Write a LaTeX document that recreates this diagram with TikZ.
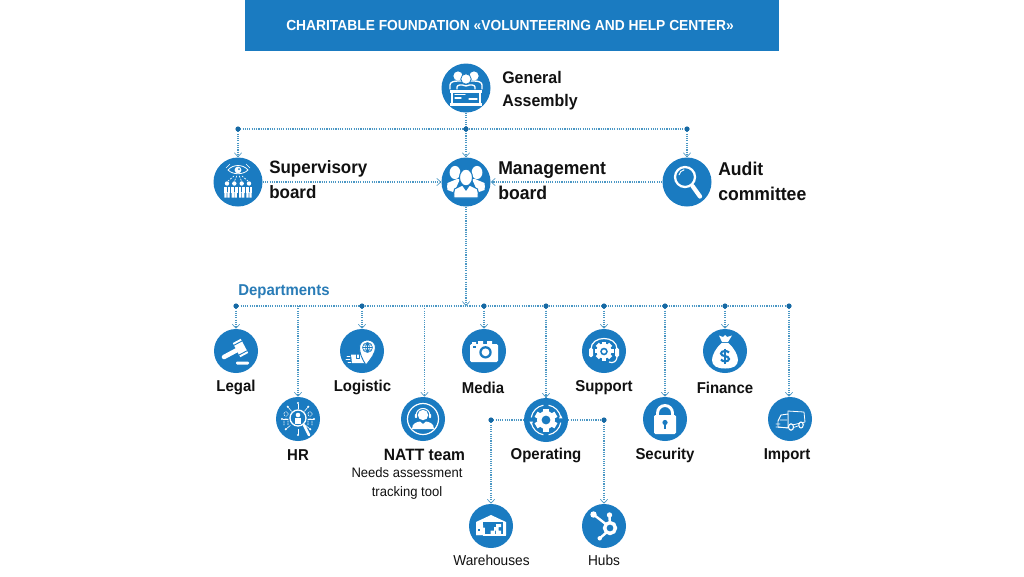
\documentclass[tikz,border=0pt]{standalone}
\usepackage{fontspec}
\setmainfont[FakeStretch=0.95]{Liberation Sans}
\usetikzlibrary{arrows.meta}
\definecolor{fb}{HTML}{1A7BC1}
\definecolor{fl}{HTML}{4A97C4}
\definecolor{ft}{HTML}{111111}
\tikzset{
  x=0.75pt,y=-0.75pt,
  big/.style={circle,fill=fb,inner sep=0pt,minimum size=36.75pt},
  small/.style={circle,fill=fb,inner sep=0pt,minimum size=33pt},
  conn/.style={draw=fl,line width=0.85pt,dash pattern=on 0.85pt off 0.85pt},
  tip/.style={conn,-{Straight Barb[length=3pt,width=5.5pt,line width=0.5pt]}},
  dot/.style={fill=fb!85!black},
  bigt/.style={font=\fontsize{13.9pt}{18.7pt}\selectfont\bfseries,text=ft,align=left,anchor=west,inner sep=0pt},
  dept/.style={font=\fontsize{11.8pt}{13pt}\selectfont\bfseries,text=ft,inner sep=0pt},
  sub/.style={font=\fontsize{10.3pt}{14.2pt}\selectfont,text=ft,inner sep=0pt,align=center},
  sub2/.style={font=\fontsize{10.8pt}{14.2pt}\selectfont,text=ft,inner sep=0pt},
  wl/.style={draw=white,line width=0.7pt,line cap=round,line join=round},
  bl/.style={draw=fb,line width=0.7pt,line cap=round,line join=round},
}
\newcommand{\busdot}[1]{\fill[dot] (#1) circle (2.6);}
\begin{document}
\begin{tikzpicture}
\useasboundingbox (0,0) rectangle (1024,576);
\fill[white] (0,0) rectangle (1024,576);
\node[fill=fb,minimum width=400.5pt,minimum height=38.25pt,inner sep=0pt,text=white,font=\fontsize{10.9pt}{13pt}\selectfont\bfseries] (title) at (512,25.5) {CHARITABLE FOUNDATION «VOLUNTEERING AND HELP CENTER»\kern3pt};

% main circles
\node[big] (ga) at (466,88) {};
\node[big] (sb) at (238,182) {};
\node[big] (mb) at (466,182) {};
\node[big] (ac) at (687,182) {};
% departments
\node[small] (legal) at (236,351) {};
\node[small] (logi) at (362,351) {};
\node[small] (media) at (484,351) {};
\node[small] (supp) at (604,351) {};
\node[small] (fin) at (725,351) {};
\node[small] (hr) at (298,419) {};
\node[small] (natt) at (423,419) {};
\node[small] (oper) at (546,420) {};
\node[small] (secu) at (665,419) {};
\node[small] (impo) at (790,419) {};
\node[small] (ware) at (491,526) {};
\node[small] (hubs) at (604,526) {};

% bus coordinates
\coordinate (tS) at (238,129); \coordinate (tM) at (466,129); \coordinate (tA) at (687,129);
\coordinate (bL) at (236,306); \coordinate (bH) at (298,306); \coordinate (bG) at (362,306);
\coordinate (bN) at (424.5,306); \coordinate (bC) at (466,306); \coordinate (bD) at (484,306);
\coordinate (bO) at (546,306); \coordinate (bU) at (604,306); \coordinate (bE) at (665,306);
\coordinate (bF) at (725,306); \coordinate (bI) at (789,306);
\coordinate (oW) at (491,420); \coordinate (oH) at (604,420);

% connectors
\draw[conn] (tS) -- (tA);
\draw[tip] (ga) -- (mb);
\draw[tip] (tS) -- (sb);
\draw[tip] (tA) -- (ac);
\draw[tip] (sb) -- (mb);
\draw[tip] (ac) -- (mb);
\draw[conn] (bL) -- (bI);
\draw[tip] (mb) -- (bC);
\foreach \a/\b in {bL/legal,bH/hr,bG/logi,bN/natt,bD/media,bO/oper,bU/supp,bE/secu,bF/fin,bI/impo}{\draw[tip] (\a) -- (\a |- \b.north);}
\draw[conn] (oW) -- (oper); \draw[conn] (oper) -- (oH);
\draw[tip] (oW) -- (ware);
\draw[tip] (oH) -- (hubs);
\foreach \p in {tS,tM,tA,bL,bG,bD,bO,bU,bE,bF,bI,oW,oH}{\busdot{\p}}

% ---- icons ----
% General Assembly
\begin{scope}[shift={(ga.center)}]
  \fill[white] (-8,-12) circle (4.6) (8,-12) circle (4.6);
  \draw[wl,line width=1pt] (-16,1) -- (-16,-3) .. controls (-16,-6) and (-12,-7) .. (-8,-7) .. controls (-4,-7) and (4,-7) .. (8,-7) .. controls (12,-7) and (16,-6) .. (16,-3) -- (16,1);
  \fill[white,draw=fb,line width=.6pt] (0,-9) circle (5.2);
  \draw[wl,line width=1pt] (-9,1) -- (-9,-1) .. controls (-9,-3) and (-5,-4) .. (0,-2) .. controls (5,-4) and (9,-3) .. (9,-1) -- (9,1);
  \fill[white] (-16,1.5) rectangle (16,5);
  \draw[wl,line width=.9pt] (-14,5) -- (-14,15) (14,5) -- (14,15);
  \fill[white] (-16,15) rectangle (16,17.5);
  \draw[wl,line width=1pt] (-11,6.5) -- (-1,6.5) (3,11) -- (11,11) (-11,10) -- (-5,10);
\end{scope}
% Supervisory
\begin{scope}[shift={(sb.center)}]
  \draw[wl,line width=.6pt] (-10,-12) .. controls (-5,-18) and (5,-18) .. (10,-12) .. controls (5,-7) and (-5,-7) .. (-10,-12) -- cycle;
  \fill[white] (0,-12) circle (3.4);
  \fill[fb] (1,-13) circle (1);
  \draw[wl,line width=.5pt] (-12,-14) -- (-8,-18) (12,-14) -- (8,-18);
  \draw[wl,line width=.5pt,dash pattern=on 1.2pt off 1.2pt] (-4,-6) -- (-10,-1) (-1.3,-6) -- (-3.5,-1) (1.3,-6) -- (3.5,-1) (4,-6) -- (10,-1);
  \foreach \x in {-11,-3.7,3.7,11}{
    \fill[white] (\x,1.5) circle (2.2);
    \fill[white] (\x-3.2,4.5) rectangle (\x+3.2,11);
    \fill[white] (\x-2.6,11) rectangle (\x-.3,15.5) (\x+.3,11) rectangle (\x+2.6,15.5);
    \draw[bl,line width=.4pt] (\x,5) -- (\x,10);
  }
\end{scope}
% Management
\begin{scope}[shift={(mb.center)}]
  \foreach \s in {-1,1}{
    \fill[white] (\s*11,-9.5) ellipse (5.4 and 6.6);
    \fill[white] (\s*6,-3) -- (\s*9,-3) -- (\s*18.5,1) .. controls (\s*19,3) and (\s*19,6) .. (\s*18.5,8) -- (\s*13,10) -- (\s*10,6) -- cycle;
  }
  \fill[white,draw=fb,line width=.8pt] (0,-4.5) ellipse (6.5 and 8.4);
  \fill[white,draw=fb,line width=.8pt] (-3.5,3) -- (-11.5,7) .. controls (-12.5,10) and (-12.5,13) .. (-12,16) -- (12,16) .. controls (12.5,13) and (12.5,10) .. (11.5,7) -- (3.5,3) -- (0,8) -- cycle;
\end{scope}
% Audit
\begin{scope}[shift={(ac.center)}]
  \draw[white,line width=1.7pt] (-2,-5) circle (10);
  \draw[white,line width=.7pt] (-8,-7) arc (-170:-100:6.5);
  \draw[white,line width=3.2pt,line cap=round] (5.5,4) -- (13,14.5);
\end{scope}
% Legal
\begin{scope}[shift={(legal.center)}]
  \draw[white,line width=3.4pt,line cap=round] (-12,6) -- (3,-2);
  \fill[white,rotate around={28:(4.5,-3)}] (0,-11) rectangle (9,5);
  \draw[fb,line width=.7pt,rotate around={28:(4.5,-3)}] (0,-8.5) -- (9,-8.5) (0,2.5) -- (9,2.5);
  \fill[white,rounded corners=.8pt] (0,10.5) rectangle (13,13.5);
\end{scope}
% Logistic
\begin{scope}[shift={(logi.center)}]
  \fill[white] (-11,3.5) -- (2,3.5) -- (3,12) -- (-10,12) -- cycle;
  \draw[bl,line width=.5pt] (-6,3.5) -- (-6,7) -- (-3,7) -- (-3,3.5);
  \fill[white,draw=fb,line width=.7pt] (4,14) .. controls (0,8) and (-2.5,2) .. (-2.5,-3.5) .. controls (-2.5,-8) and (1,-11) .. (5.5,-11) .. controls (10,-11) and (13.5,-8) .. (13.5,-3.5) .. controls (13.5,2) and (9,8) .. (4,14) -- cycle;
  \draw[bl,line width=.45pt] (5.5,-3.5) circle (5) (.5,-3.5) -- (10.5,-3.5) (5.5,-8.5) -- (5.5,1.5) (5.5,-8.5) .. controls (3,-6) and (3,-1) .. (5.5,1.5) (5.5,-8.5) .. controls (8,-6) and (8,-1) .. (5.5,1.5) (1.2,-6) -- (9.8,-6) (1.2,-1) -- (9.8,-1);
  \draw[wl,line width=.5pt] (-15,5) -- (-12,5) (-16,8) -- (-12,8) (-14,11) -- (-11,11);
\end{scope}
% Media
\begin{scope}[shift={(media.center)}]
  \fill[white,rounded corners=1pt] (-14,-7) rectangle (14,11);
  \fill[white] (-12,-9) rectangle (-8,-7) (-6,-10) rectangle (-1,-7) (3,-10) rectangle (8,-7);
  \fill[fb] (1.5,1.3) circle (6.2);
  \fill[white] (1.5,1.3) circle (3.9);
  \fill[fb] (-11,-5) rectangle (-8,-3);
\end{scope}
% Support
\begin{scope}[shift={(supp.center)}]
  \foreach \a in {0,45,...,315}{\fill[white,rotate=\a] (-2.2,0.5) rectangle (2.2,-9.5);}
  \fill[white] (0,0) circle (7.5);
  \fill[fb] (0,0.5) circle (3.8);
  \fill[white] (0,0.5) circle (2);
  \draw[white,line width=.9pt] (-13,-2) .. controls (-13,-16) and (13,-16) .. (13,-2);
  \fill[white,rounded corners=1pt] (-15,-3) rectangle (-11,6) (11,-3) rectangle (15,6);
  \draw[white,line width=.9pt] (13,6) .. controls (13,10) and (9,13) .. (5,11);
\end{scope}
% Finance
\begin{scope}[shift={(fin.center)}]
  \fill[white] (-6,-15.5) -- (-2,-14) -- (0,-16) -- (2,-14) -- (7,-15.5) -- (3,-9) -- (-3,-9) -- cycle;
  \fill[white] (-3.5,-8) .. controls (-9,-3) and (-13,4) .. (-13,9) .. controls (-13,15) and (-8,17.5) .. (0,17.5) .. controls (8,17.5) and (13,15) .. (13,9) .. controls (13,4) and (9,-3) .. (3.5,-8) -- cycle;
  \draw[fb,line width=1.6pt] (4,1.5) .. controls (3,-.5) and (-4,-.7) .. (-4,2.5) .. controls (-4,6) and (4,4) .. (4,8) .. controls (4,11) and (-3,11) .. (-4,8.5);
  \draw[fb,line width=1.2pt] (0,-2.5) -- (0,12.5);
\end{scope}
% HR
\begin{scope}[shift={(hr.center)}]
  \foreach \a in {-90,-50,-130,0,180,40,140,90}{
    \draw[white,line width=.45pt] (\a:10) -- (\a:15.5);
    \fill[white] (\a:16) circle (1.1);
  }
  \draw[wl,line width=.4pt,dash pattern=on 1pt off .8pt] (-12,-5) circle (2.2) (12,-5) circle (2.2) (-14,6) -- (-14,0) -- (-10,0) -- (-10,6) (14,6) -- (14,0) -- (10,0) -- (10,6);
  \draw[white,line width=1pt] (0,-1) circle (8);
  \fill[white] (0,-4) circle (2.3);
  \fill[white] (-2.8,-1.2) rectangle (2.8,5);
  \draw[white,line width=2pt,line cap=round] (6,6) -- (11,16);
\end{scope}
% NATT
\begin{scope}[shift={(natt.center)}]
  \draw[white,line width=.9pt] (0,0) circle (15.5);
  \fill[white] (0,-4) circle (5.2);
  \draw[white,line width=.8pt] (-7,-3) .. controls (-7,-13) and (7,-13) .. (7,-3);
  \fill[white,rounded corners=.6pt] (-8.2,-5) rectangle (-5.8,-1) (5.8,-5) rectangle (8.2,-1);
  \fill[white] (-11,10) .. controls (-11,4) and (-6,3) .. (-3,2.5) -- (0,5) -- (3,2.5) .. controls (6,3) and (11,4) .. (11,10) -- cycle;
\end{scope}
% Operating
\begin{scope}[shift={(oper.center)}]
  \foreach \a in {0,60,...,300}{\fill[white,rotate=\a] (-3,0) rectangle (3,-11.5);}
  \fill[white] (0,0) circle (9);
  \fill[fb] (0,0) circle (4.4);
  \foreach \a/\b in {100/170,190/260,280/350,10/80}{\draw[white,line width=.8pt] (\a:15) arc (\a:\b:15);}
  \fill[white] (170:15) ++(-1.8,-1) -- ++(3.6,0) -- ++(-1.8,3.4) -- cycle;
  \fill[white] (-10:15) ++(-1.8,1) -- ++(3.6,0) -- ++(-1.8,-3.4) -- cycle;
\end{scope}
% Security
\begin{scope}[shift={(secu.center)}]
  \draw[white,line width=2.2pt] (-7.5,-3) -- (-7.5,-6) arc (-180:0:7.5) -- (7.5,-3);
  \fill[white,rounded corners=1pt] (-11,-4) rectangle (11,15);
  \fill[fb] (0,3.5) circle (2.6);
  \fill[fb] (-1.1,3.5) rectangle (1.1,10);
\end{scope}
% Import
\begin{scope}[shift={(impo.center)}]
  \draw[wl,line width=.6pt,fill=fb] (-2,-8) -- (14,-7) -- (15,3) -- (-2,7) -- cycle;
  \draw[wl,line width=.7pt,fill=fb] (-2,-5) -- (-9,-4) -- (-12,2) -- (-12,8) -- (-2,9) -- cycle;
  \draw[wl,line width=.5pt] (-10,1) -- (-3,1) (-14,5) -- (-10,5) (-14,8) -- (2,9) -- (14,5);
  \draw[white,line width=.8pt,fill=fb] (1,8) ellipse (2.5 and 3.2) (11,6) ellipse (2.2 and 3);
\end{scope}
% Warehouses
\begin{scope}[shift={(ware.center)}]
  \fill[white] (-15,-4) -- (0,-11) -- (15,-4) -- (15,9) -- (-15,9) -- cycle;
  \fill[fb] (-8.5,-4) rectangle (12,8);
  \fill[white] (3,1) rectangle (7.5,4.5) (-.5,4.5) rectangle (4,8) (5,4.5) rectangle (10,8) (5,-2) rectangle (10,1);
  \fill[white] (-8,9) rectangle (15,10);
  \fill[white] (-15,1) rectangle (-9.5,9) (-9,-1) rectangle (-8,9);
  \fill[fb] (-13,3) rectangle (-11.5,5);
  \draw[wl,line width=.8pt] (-7,2) -- (-7,9) -- (-3.5,9);
\end{scope}
% Hubs
\begin{scope}[shift={(hubs.center)}]
  \draw[white,line width=1.8pt] (-10.5,-11.5) -- (3,-1) (6,2) -- (5.5,-11) (-4.3,12.3) -- (3,6);
  \draw[white,line width=2.6pt,fill=fb] (6,2) circle (5.4);
  \fill[white] (-10.5,-11.5) circle (3.2) (5.5,-11) circle (2.7) (-4.3,12.3) circle (2.2);
\end{scope}

% ---- labels ----
\node[bigt,font=\fontsize{12.6pt}{17.4pt}\selectfont\bfseries] (tga) at (502,91) {General\\Assembly};
\node[bigt,font=\fontsize{13.4pt}{18.7pt}\selectfont\bfseries] (tsb) at (269,180) {Supervisory\\board};
\node[bigt] (tmb) at (498,181) {Management\\board};
\node[bigt] (tac) at (718,181) {Audit\\committee};
\node[font=\fontsize{11.8pt}{13pt}\selectfont\bfseries,text=fb!85!gray,anchor=west,inner sep=0pt] (tdep) at (238,291.5) {Departments};
\node[dept] (tlegal) at (236,387.5) {Legal};
\node[dept] (tlogi) at (362.5,387.5) {Logistic};
\node[dept] (tmedia) at (483,387.5) {Media};
\node[dept] (tsupp) at (604,387.5) {Support};
\node[dept] (tfin) at (725,387.5) {Finance};
\node[dept] (thr) at (298,455.5) {HR};
\node[dept,font=\fontsize{12.3pt}{13pt}\selectfont\bfseries] (tnatt) at (424.5,455) {NATT team};
\node[dept] (toper) at (546,455.5) {Operating};
\node[dept] (tsecu) at (665,455.5) {Security};
\node[dept] (timpo) at (787,455.5) {Import};
\node[sub] (tneed) at (407,483) {Needs assessment\\tracking tool};
\node[sub2] (tware) at (491.5,560.5) {Warehouses};
\node[sub2] (thubs) at (604,560.5) {Hubs};
\end{tikzpicture}
\end{document}
